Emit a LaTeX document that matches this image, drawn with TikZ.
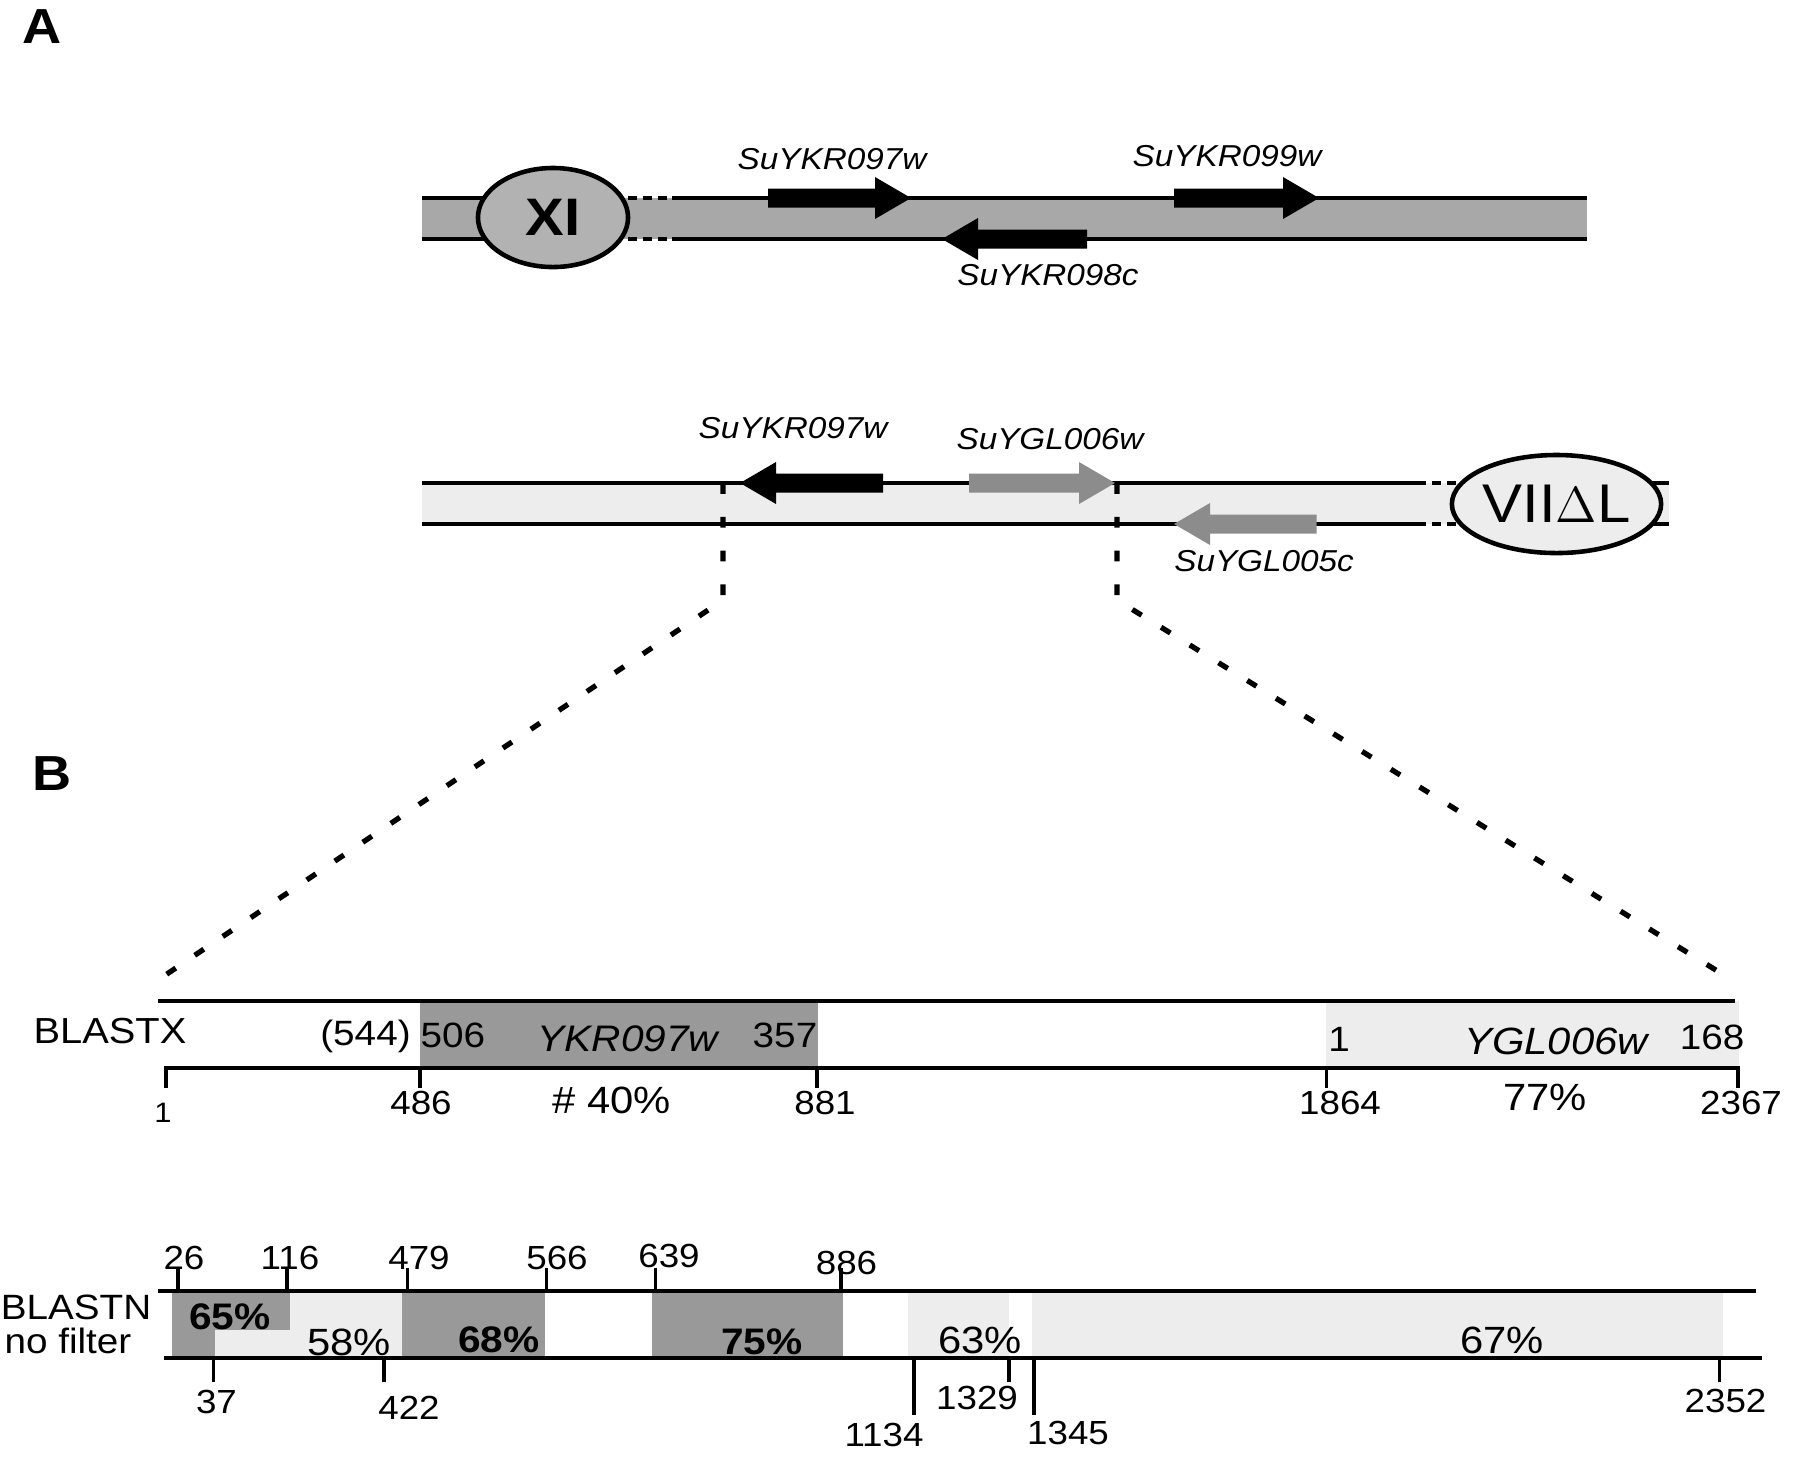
\documentclass[tikz,border=0pt]{standalone}
\usepackage{fontspec}
\setmainfont{Liberation Sans}[FakeStretch=1.1]
\usetikzlibrary{shapes.geometric}

\definecolor{bargrey}{gray}{0.66}
\definecolor{ovalgrey}{gray}{0.70}
\definecolor{palegrey}{gray}{0.93}
\definecolor{boxgrey}{gray}{0.60}
\definecolor{genegrey}{gray}{0.55}

% gene arrow: tail x, tip x, y, colour
\newcommand{\gene}[4]{%
  \fill[#4] ({#1},{#3-9.5}) -- ({#2+36*sign(#1-#2)},{#3-9.5}) -- ({#2+36*sign(#1-#2)},{#3-21})
    -- ({#2},{#3}) -- ({#2+36*sign(#1-#2)},{#3+21}) -- ({#2+36*sign(#1-#2)},{#3+9.5})
    -- ({#1},{#3+9.5}) -- cycle;}

\begin{document}
\begin{tikzpicture}[x=0.01cm,y=-0.01cm,
    chrline/.style={line width=1.3pt},
    breakdash/.style={line width=1.3pt,dash pattern=on 2.6pt off 1.6pt},
    zoomline/.style={line width=1.5pt,dash pattern=on 3.1pt off 6.5pt},
    tick/.style={line width=1.1pt},
    chromo/.style={draw,ellipse,line width=1.3pt,inner sep=0pt},
    genelbl/.style={inner sep=0pt,font=\fontsize{8.6}{10}\selectfont\itshape},
    numlbl/.style={inner sep=0pt,font=\fontsize{9.5}{11}\selectfont},
    boxlbl/.style={inner sep=0pt,font=\fontsize{10}{12}\selectfont},
    pctlbl/.style={inner sep=0pt,font=\fontsize{10.8}{12}\selectfont},
    bpctlbl/.style={inner sep=0pt,font=\fontsize{10.5}{12}\selectfont\bfseries},
    rowlbl/.style={inner sep=0pt,font=\fontsize{10}{11}\selectfont},
    panel/.style={inner sep=0pt,font=\fontsize{14}{16}\selectfont\bfseries}]
  \useasboundingbox[fill=white] (0,0) rectangle (1800,1456);

  % --- panel A: chromosome XI ---
  \node[panel] (pA) at (42,27) {A};
  \fill[bargrey] (422,198) rectangle (1587,239);
  \draw[chrline] (422,198) -- (560,198)  (422,239) -- (560,239);
  \draw[breakdash] (628,198) -- (670,198)  (628,239) -- (670,239);
  \draw[chrline] (672,198) -- (1587,198)  (672,239) -- (1587,239);
  \gene{768}{911}{198}{black}
  \gene{1174}{1319}{198}{black}
  \gene{1087}{942}{239}{black}
  \node[chromo,fill=ovalgrey,minimum width=1.5cm,minimum height=0.99cm,
        font=\fontsize{15}{16}\selectfont\bfseries] (xi) at (553,217.5) {XI};
  \node[genelbl] (g97a) at (832,159) {SuYKR097w};
  \node[genelbl] (g99) at (1227,156) {SuYKR099w};
  \node[genelbl] (g98) at (1048,275) {SuYKR098c};

  % --- panel A: chromosome VII ---
  \fill[palegrey] (422,483) rectangle (1669,524);
  \draw[chrline] (422,483) -- (1426,483)  (422,524) -- (1426,524);
  \draw[breakdash] (1432,483) -- (1470,483)  (1432,524) -- (1470,524);
  \draw[chrline] (1600,483) -- (1669,483)  (1600,524) -- (1669,524);
  \gene{883}{740}{483}{black}
  \gene{969}{1115}{483}{genegrey}
  \gene{1316.5}{1174}{524}{genegrey}
  \node[chromo,fill=palegrey,minimum width=1.81cm,minimum height=0.98cm,
        font=\fontsize{15.5}{16}\selectfont] (vii) at (1556.5,504) {VII$\Delta$L};
  \node[genelbl] (g97b) at (793,428) {SuYKR097w};
  \node[genelbl] (g06) at (1050,439) {SuYGL006w};
  \node[genelbl] (g05) at (1264,561) {SuYGL005c};

  % --- zoom lines ---
  \coordinate (brkL) at (723,483);
  \coordinate (bendL) at (723,600);
  \coordinate (endL) at (155,982);
  \coordinate (brkR) at (1117,483);
  \coordinate (bendR) at (1117,600);
  \coordinate (endR) at (1732,980);
  \draw[zoomline] (brkL) -- (bendL) -- (endL);
  \draw[zoomline] (brkR) -- (bendR) -- (endR);

  % --- panel B: BLASTX ---
  \node[panel] (pB) at (52,774) {B};
  \fill[boxgrey] (420,1001) rectangle (818,1068);
  \fill[palegrey] (1326,1001) rectangle (1739,1068);
  \draw[chrline] (158,1001) -- (1735,1001);
  \draw[chrline] (164,1068) -- (1740,1068);
  \foreach \x in {166,420,817,1326.5,1738}
    \draw[tick] (\x,1068) -- (\x,1088);
  \node[rowlbl,font=\fontsize{10.3}{12}\selectfont] (bx) at (110,1031) {BLASTX};
  \node[boxlbl] (x544) at (365.5,1036) {(544)};
  \node[boxlbl] (x506) at (453,1035) {506};
  \node[boxlbl,font=\fontsize{10.5}{12}\selectfont\itshape] (xykr) at (628,1039) {YKR097w};
  \node[boxlbl] (x357) at (785,1035) {357};
  \node[boxlbl] (x1b) at (1339,1039) {1};
  \node[boxlbl,font=\fontsize{10.8}{12}\selectfont\itshape] (xygl) at (1556,1041) {YGL006w};
  \node[boxlbl] (x168) at (1712,1037) {168};
  \node[numlbl,font=\fontsize{8}{9}\selectfont] (t1) at (163,1113) {1};
  \foreach \x/\t [count=\i] in {421/486,825/881,1340/1864,1741/2367}
    \node[numlbl] (tx\i) at (\x,1103) {\t};
  \node[pctlbl] (p40) at (611.5,1100) {\# 40\%};
  \node[pctlbl] (p77) at (1545,1097) {77\%};

  % --- panel B: BLASTN ---
  \fill[palegrey] (215,1291) rectangle (402,1358);
  \fill[boxgrey] (172,1291) rectangle (290,1330);
  \fill[boxgrey] (172,1291) rectangle (215,1358);
  \fill[boxgrey] (402,1291) rectangle (545,1358);
  \fill[boxgrey] (651.5,1291) rectangle (842.6,1358);
  \fill[palegrey] (907.6,1291) rectangle (1008.7,1358);
  \fill[palegrey] (1031.8,1291) rectangle (1722.5,1358);
  \draw[chrline] (158,1291) -- (1756,1291);
  \draw[chrline] (163.6,1358) -- (1762,1358);
  \foreach \x in {178,287,407.5,546.5,655.5,841}
    \draw[tick] (\x,1268) -- (\x,1291);
  \foreach \x in {213.5,383.6,1008.7,1719.5}
    \draw[tick] (\x,1358) -- (\x,1382);
  \foreach \x in {913.6,1033.6}
    \draw[tick] (\x,1358) -- (\x,1415);
  \node[rowlbl] (bn) at (76,1307) {BLASTN};
  \node[rowlbl] (nf) at (68,1341) {no filter};
  \foreach \x/\y/\t [count=\i] in {184/1258/26,290/1258/116,419/1258/479,
      557/1258/566,669/1256/639,846.5/1263/886}
    \node[numlbl] (na\i) at (\x,\y) {\t};
  \foreach \x/\y/\t [count=\i] in {216.5/1402/37,409/1408/422,884/1435/1134,
      977/1398/1329,1068/1433/1345,1725.5/1401/2352}
    \node[numlbl] (nb\i) at (\x,\y) {\t};
  \node[bpctlbl] (p65) at (230,1317) {65\%};
  \node[pctlbl] (p58) at (349,1342) {58\%};
  \node[bpctlbl] (p68) at (499,1340) {68\%};
  \node[bpctlbl] (p75) at (762,1342) {75\%};
  \node[pctlbl] (p63) at (980,1340) {63\%};
  \node[pctlbl] (p67) at (1502,1340) {67\%};
\end{tikzpicture}
\end{document}
